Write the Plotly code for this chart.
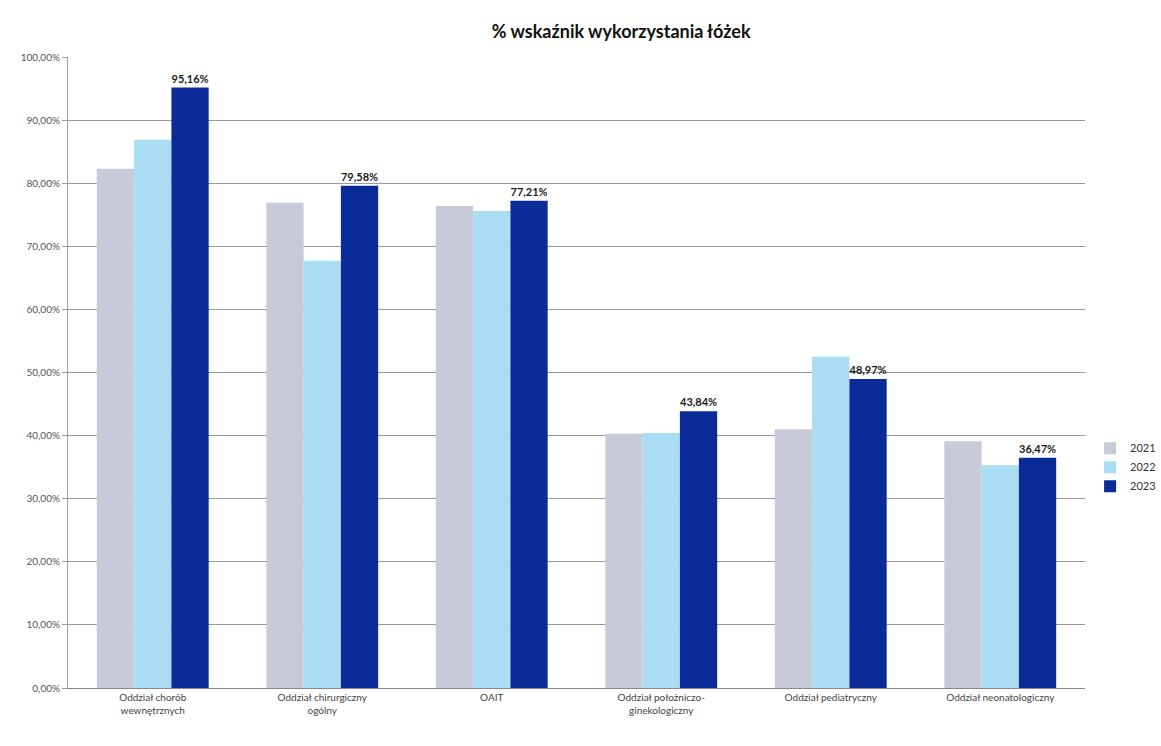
import plotly.graph_objects as go

# Bed occupancy rate (%) per hospital ward, 2021-2023
wards = [
    "Oddział chorób<br>wewnętrznych",
    "Oddział chirurgiczny<br>ogólny",
    "OAIT",
    "Oddział położniczo-<br>ginekologiczny",
    "Oddział pediatryczny",
    "Oddział neonatologiczny",
]
years = ["2021", "2022", "2023"]
occ_2021 = [82.3, 76.9, 76.4, 40.3, 41.0, 39.1]
occ_2022 = [86.9, 67.7, 75.6, 40.4, 52.5, 35.3]
occ_2023 = [95.16, 79.58, 77.21, 43.84, 48.97, 36.47]
colors = ["#c9cad9", "#a9ddf4", "#0b2b99"]

fig = go.Figure()
for name, vals, col in zip(years, [occ_2021, occ_2022, occ_2023], colors):
    show_labels = name == "2023"
    fig.add_trace(go.Bar(
        x=wards, y=vals, name=name, marker=dict(color=col, line=dict(width=0)),
        text=[f"{v:.2f}".replace(".", ",") + "%" for v in vals] if show_labels else None,
        textposition="outside" if show_labels else "none",
        textfont=dict(family="Lato", size=11, color="#1a1a1a", weight="bold"),
        cliponaxis=False,
    ))

fig.update_layout(
    width=1161, height=746,
    margin=dict(l=68, r=76, t=57, b=58, autoexpand=False),
    paper_bgcolor="white", plot_bgcolor="white",
    separators=", ",
    barmode="group", bargap=0.34, bargroupgap=0,
    font=dict(family="Lato", size=10, color="#444"),
    title=dict(text="<b>% wskaźnik wykorzystania łóżek</b>", x=0.535, xanchor="center",
               y=0.957, yanchor="middle", font=dict(family="Lato", size=18, color="#111")),
    legend=dict(x=1.005, xanchor="left", y=0.35, yanchor="middle",
                font=dict(family="Lato", size=11, color="#333"),
                itemwidth=30, tracegroupgap=2),
    showlegend=True,
)
fig.update_yaxes(range=[0, 100], dtick=10, tickformat=".2f", ticksuffix="%",
                 showgrid=True, gridcolor="#9a9a9a", gridwidth=1,
                 showline=True, linecolor="#a0a0a0", ticks="outside", ticklen=5,
                 tickcolor="#a0a0a0", tickfont=dict(size=10, color="#555"),
                 zeroline=False)
fig.update_xaxes(showline=True, linecolor="#888", tickfont=dict(size=10, color="#444"),
                 ticks="", showgrid=False)

fig.write_html("out.html")
